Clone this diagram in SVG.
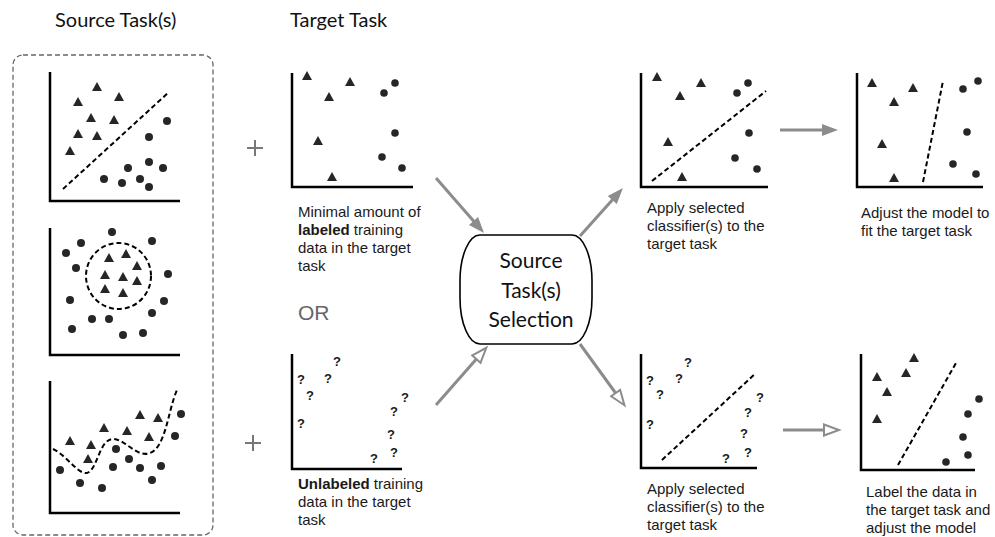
<svg xmlns="http://www.w3.org/2000/svg" width="995" height="537" viewBox="0 0 995 537">
  <style>
    .hdr { font-family: Lato, "Open Sans", sans-serif; font-size: 20px; fill: #111; }
    .cap { font-family: "Liberation Sans", Arial, sans-serif; font-size: 15px; fill: #1a1a1a; }
    .cap b, .bold { font-weight: bold; }
    .or { font-family: "Liberation Sans", Arial, sans-serif; font-size: 21px; fill: #666; }
    .plus { stroke: #777; stroke-width: 2; }
    .axis { fill: none; stroke: #000; stroke-width: 2.5; }
    .sep { fill: none; stroke: #000; stroke-width: 2; stroke-dasharray: 5 3; }
    .tri { fill: #262626; }
    .dot { fill: #262626; }
    .q { font-family: "Liberation Sans", Arial, sans-serif; font-size: 13px; font-weight: bold; fill: #1a1a1a; text-anchor: middle; }
    .link { stroke: #8c8c8c; stroke-width: 3; fill: none; }
    .node-txt { font-family: Lato, "Open Sans", sans-serif; font-size: 21px; fill: #111; text-anchor: middle; }
  </style>
  <defs>
    <marker id="head-solid" markerUnits="userSpaceOnUse" markerWidth="16" markerHeight="12" refX="3" refY="6" orient="auto" overflow="visible">
      <path d="M0,0 L16,6 L0,12 z" fill="#8c8c8c"/>
    </marker>
    <marker id="head-open" markerUnits="userSpaceOnUse" markerWidth="16" markerHeight="12" refX="3" refY="6" orient="auto" overflow="visible">
      <path d="M0,0.5 L15,6 L0,11.5 z" fill="#fff" stroke="#8c8c8c" stroke-width="2"/>
    </marker>
    <path id="t" d="M0,-5 L5,4 L-5,4 z"/>
  </defs>

  <!-- column headers -->
  <text class="hdr" x="55" y="27">Source Task(s)</text>
  <text class="hdr" x="290" y="27">Target Task</text>

  <!-- source tasks panel -->
  <g id="source-tasks">
    <rect x="13" y="55" width="200" height="480" rx="10" fill="none" stroke="#666" stroke-width="1.3" stroke-dasharray="5 3"/>

    <!-- linear separation -->
    <g id="source-linear">
      <path class="axis" d="M50,72 V201 H180"/>
      <line class="sep" x1="63" y1="189" x2="169" y2="92"/>
      <g class="tri">
        <use href="#t" x="97" y="87"/><use href="#t" x="78" y="102"/><use href="#t" x="119" y="97"/>
        <use href="#t" x="91" y="118"/><use href="#t" x="114" y="120"/><use href="#t" x="78" y="134"/>
        <use href="#t" x="97" y="136"/><use href="#t" x="70" y="151"/>
      </g>
      <g class="dot">
        <circle cx="167" cy="121" r="4"/><circle cx="149" cy="137" r="4"/><circle cx="149" cy="162" r="4"/>
        <circle cx="128" cy="168" r="4"/><circle cx="163" cy="168" r="4"/><circle cx="104" cy="179" r="4"/>
        <circle cx="122" cy="183" r="4"/><circle cx="140" cy="179" r="4"/><circle cx="149" cy="187" r="4"/>
      </g>
    </g>

    <!-- circular separation -->
    <g id="source-circular">
      <path class="axis" d="M50,228 V355 H180"/>
      <ellipse class="sep" cx="118.5" cy="276" rx="32.5" ry="33"/>
      <g class="tri">
        <use href="#t" x="109" y="258"/><use href="#t" x="126" y="254"/><use href="#t" x="137" y="266"/>
        <use href="#t" x="105" y="275"/><use href="#t" x="123" y="277"/><use href="#t" x="137" y="281"/>
        <use href="#t" x="105" y="289"/><use href="#t" x="123" y="293"/>
      </g>
      <g class="dot">
        <circle cx="112" cy="232" r="4"/><circle cx="81" cy="243" r="4"/><circle cx="152" cy="241" r="4"/>
        <circle cx="66" cy="253" r="4"/><circle cx="76" cy="268" r="4"/><circle cx="168" cy="274" r="4"/>
        <circle cx="70" cy="300" r="4"/><circle cx="164" cy="301" r="4"/><circle cx="152" cy="313" r="4"/>
        <circle cx="92" cy="319" r="4"/><circle cx="109" cy="319" r="4"/><circle cx="72" cy="329" r="4"/>
        <circle cx="123" cy="335" r="4"/><circle cx="143" cy="333" r="4"/>
      </g>
    </g>

    <!-- curved separation -->
    <g id="source-curved">
      <path class="axis" d="M50,381 V513 H180"/>
      <path class="sep" d="M53,449 C68,456 80,478 89,472 C98,466 100,438 114,439 C126,440 137,458 150,453 C166,447 168,410 177,390"/>
      <g class="tri">
        <use href="#t" x="70" y="441"/><use href="#t" x="91" y="445"/><use href="#t" x="104" y="428"/>
        <use href="#t" x="88" y="459"/><use href="#t" x="127" y="431"/><use href="#t" x="140" y="415"/>
        <use href="#t" x="158" y="418"/><use href="#t" x="149" y="437"/>
      </g>
      <g class="dot">
        <circle cx="60" cy="470" r="4"/><circle cx="80" cy="483" r="4"/><circle cx="102" cy="488" r="4"/>
        <circle cx="113" cy="467" r="4"/><circle cx="116" cy="449" r="4"/><circle cx="129" cy="459" r="4"/>
        <circle cx="140" cy="468" r="4"/><circle cx="152" cy="480" r="4"/><circle cx="161" cy="466" r="4"/>
        <circle cx="175" cy="436" r="4"/><circle cx="181" cy="414" r="4"/>
      </g>
    </g>
  </g>

  <!-- plus signs and OR -->
  <path class="plus" d="M247,148 H263 M255,140 V156"/>
  <path class="plus" d="M245,443 H261 M253,435 V451"/>
  <text class="or" x="298" y="320">OR</text>

  <!-- target task, labeled -->
  <g id="target-labeled">
    <path class="axis" d="M292,73 V187 H413"/>
    <g class="tri">
      <use href="#t" x="307" y="76"/><use href="#t" x="350" y="82"/><use href="#t" x="329" y="97"/>
      <use href="#t" x="318" y="141"/><use href="#t" x="332" y="177"/>
    </g>
    <g class="dot">
      <circle cx="395" cy="83" r="3.8"/><circle cx="384" cy="93" r="3.8"/><circle cx="395" cy="133" r="3.8"/>
      <circle cx="382" cy="157" r="3.8"/><circle cx="402" cy="168" r="3.8"/>
    </g>
    <text class="cap" x="298" y="217">Minimal amount of</text>
    <text class="cap" x="298" y="235"><tspan font-weight="bold">labeled</tspan> training</text>
    <text class="cap" x="298" y="253">data in the target</text>
    <text class="cap" x="298" y="271">task</text>
  </g>

  <!-- target task, unlabeled -->
  <g id="target-unlabeled">
    <path class="axis" d="M292,354 V469 H402"/>
    <g>
      <text class="q" x="337" y="366">?</text><text class="q" x="301" y="384">?</text>
      <text class="q" x="328" y="383">?</text><text class="q" x="310" y="400">?</text>
      <text class="q" x="405" y="402">?</text><text class="q" x="394" y="416">?</text>
      <text class="q" x="301" y="428">?</text><text class="q" x="391" y="439">?</text>
      <text class="q" x="394" y="457">?</text><text class="q" x="374" y="463">?</text>
    </g>
    <text class="cap" x="298" y="489"><tspan font-weight="bold">Unlabeled</tspan> training</text>
    <text class="cap" x="298" y="507">data in the target</text>
    <text class="cap" x="298" y="525">task</text>
  </g>

  <!-- selection step -->
  <g id="selection">
    <rect x="460" y="235" width="132" height="109" rx="20" ry="46" fill="#fff" stroke="#000" stroke-width="1.6"/>
    <text class="node-txt" x="531" y="268">Source</text>
    <text class="node-txt" x="531" y="298">Task(s)</text>
    <text class="node-txt" x="531" y="327">Selection</text>
  </g>

  <!-- labeled branch: apply classifier -->
  <g id="apply-labeled">
    <path class="axis" d="M641,73 V187 H768"/>
    <line class="sep" x1="652" y1="181" x2="766" y2="91"/>
    <g class="tri">
      <use href="#t" x="657" y="77"/><use href="#t" x="701" y="83"/><use href="#t" x="680" y="96"/>
      <use href="#t" x="668" y="142"/><use href="#t" x="682" y="177"/>
    </g>
    <g class="dot">
      <circle cx="748" cy="83" r="3.8"/><circle cx="737" cy="93" r="3.8"/><circle cx="749" cy="133" r="3.8"/>
      <circle cx="735" cy="158" r="3.8"/><circle cx="757" cy="169" r="3.8"/>
    </g>
    <text class="cap" x="647" y="213">Apply selected</text>
    <text class="cap" x="647" y="231">classifier(s) to the</text>
    <text class="cap" x="647" y="249">target task</text>
  </g>

  <!-- labeled branch: adjust model -->
  <g id="adjust-model">
    <path class="axis" d="M857,73 V187 H983"/>
    <line class="sep" x1="923" y1="182" x2="943" y2="81"/>
    <g class="tri">
      <use href="#t" x="872" y="83"/><use href="#t" x="913" y="88"/><use href="#t" x="894" y="102"/>
      <use href="#t" x="882" y="144"/><use href="#t" x="894" y="178"/>
    </g>
    <g class="dot">
      <circle cx="978" cy="81" r="3.8"/><circle cx="963" cy="89" r="3.8"/><circle cx="967" cy="132" r="3.8"/>
      <circle cx="953" cy="164" r="3.8"/><circle cx="976" cy="174" r="3.8"/>
    </g>
    <text class="cap" x="861" y="218">Adjust the model to</text>
    <text class="cap" x="861" y="236">fit the target task</text>
  </g>

  <!-- unlabeled branch: apply classifier -->
  <g id="apply-unlabeled">
    <path class="axis" d="M641,354 V468 H757"/>
    <line class="sep" x1="662" y1="460" x2="756" y2="373"/>
    <g>
      <text class="q" x="688" y="367">?</text><text class="q" x="650" y="385">?</text>
      <text class="q" x="679" y="383">?</text><text class="q" x="660" y="399">?</text>
      <text class="q" x="760" y="402">?</text><text class="q" x="748" y="417">?</text>
      <text class="q" x="650" y="429">?</text><text class="q" x="744" y="438">?</text>
      <text class="q" x="748" y="457">?</text><text class="q" x="726" y="463">?</text>
    </g>
    <text class="cap" x="647" y="494">Apply selected</text>
    <text class="cap" x="647" y="512">classifier(s) to the</text>
    <text class="cap" x="647" y="530">target task</text>
  </g>

  <!-- unlabeled branch: label and adjust -->
  <g id="label-adjust">
    <path class="axis" d="M861,354 V470 H975"/>
    <line class="sep" x1="898" y1="465" x2="956" y2="363"/>
    <g class="tri">
      <use href="#t" x="914" y="358"/><use href="#t" x="877" y="377"/><use href="#t" x="906" y="373"/>
      <use href="#t" x="887" y="392"/><use href="#t" x="877" y="419"/>
    </g>
    <g class="dot">
      <circle cx="979" cy="399" r="3.8"/><circle cx="968" cy="414" r="3.8"/><circle cx="963" cy="437" r="3.8"/>
      <circle cx="968" cy="455" r="3.8"/><circle cx="946" cy="462" r="3.8"/>
    </g>
    <text class="cap" x="866" y="497">Label the data in</text>
    <text class="cap" x="866" y="515">the target task and</text>
    <text class="cap" x="866" y="533">adjust the model</text>
  </g>

  <!-- connectors -->
  <g id="connectors">
    <line class="link" x1="436" y1="178" x2="475.5" y2="223.2" marker-end="url(#head-solid)"/>
    <line class="link" x1="436" y1="405" x2="478.4" y2="356.8" marker-end="url(#head-open)"/>
    <line class="link" x1="580" y1="236" x2="614.3" y2="197.7" marker-end="url(#head-solid)"/>
    <line class="link" x1="580" y1="344" x2="617.4" y2="395.5" marker-end="url(#head-open)"/>
    <line class="link" x1="780" y1="130" x2="825" y2="130" marker-end="url(#head-solid)"/>
    <line class="link" x1="783" y1="430" x2="827" y2="430" marker-end="url(#head-open)"/>
  </g>
</svg>
